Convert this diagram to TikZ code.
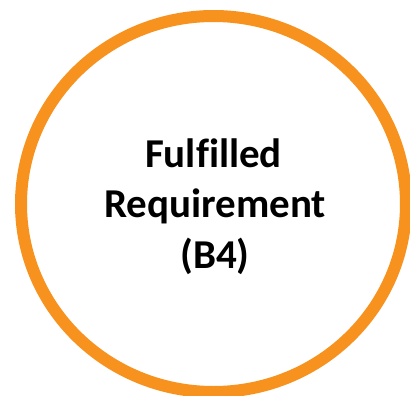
\documentclass[tikz,border=0pt]{standalone}
\usepackage{fontspec}
\setmainfont[Ligatures=NoCommon]{Carlito}
\definecolor{ringorange}{RGB}{248,146,30}
\tikzset{
  ring/.style={draw=ringorange, line width=12bp},
  label/.style={anchor=base, font=\bfseries\fontsize{41bp}{49bp}\selectfont, inner sep=0pt}
}
\begin{document}
\begin{tikzpicture}[x=1bp,y=-1bp]
\useasboundingbox (0,0) rectangle (410,396);
\fill[white] (0,0) rectangle (410,396);
\draw[ring] (213.5,204) ellipse [x radius=192.5, y radius=188];
\node[label] (l1) at (213.5,167) {Fulfilled};
\node[label] (l2) at (215,217.5) {Requirement};
\node[label] (l3) at (215,268) {(B4)};
\end{tikzpicture}
\end{document}
